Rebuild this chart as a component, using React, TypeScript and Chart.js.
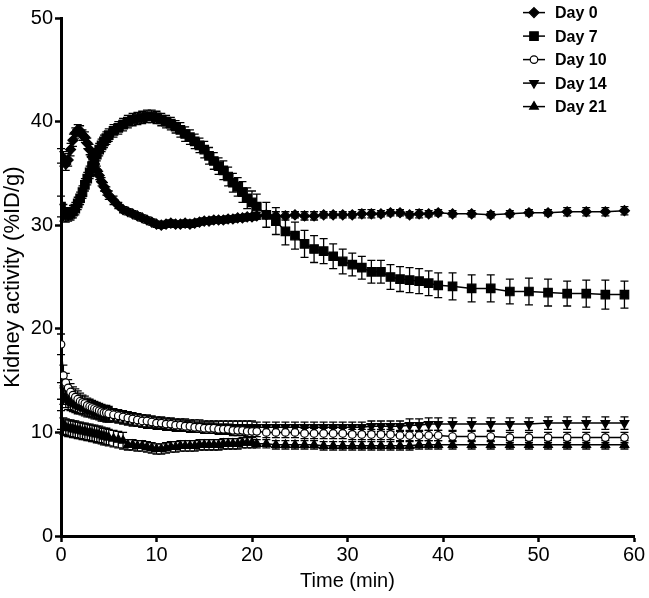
import React, { useEffect, useRef } from 'react';
import { Chart, registerables } from 'chart.js';

Chart.register(...registerables);

const FONT = '"Liberation Sans", Arial, sans-serif';

const times = [0, 0.25, 0.5, 0.75, 1, 1.25, 1.5, 1.75, 2, 2.25, 2.5, 2.75, 3, 3.25, 3.5, 3.75, 4, 4.25, 4.5, 4.75, 5,
  5.5, 6, 6.5, 7, 7.5, 8, 8.5, 9, 9.5, 10, 10.5, 11, 11.5, 12, 12.5, 13, 13.5, 14, 14.5, 15, 15.5, 16, 16.5, 17, 17.5, 18, 18.5, 19, 19.5, 20,
  20.5, 21.5, 22.5, 23.5, 24.5, 25.5, 26.5, 27.5, 28.5, 29.5, 30.5, 31.5, 32.5, 33.5, 34.5, 35.5, 36.5, 37.5, 38.5, 39.5,
  41, 43, 45, 47, 49, 51, 53, 55, 57, 59];

const day0 = [36.7, 36.4, 35.9, 36.3, 37.3, 38.2, 38.9, 39.2, 39.1, 38.7, 38.5, 37.9, 37.3, 36.6, 35.9, 35.3, 34.8, 34.2, 33.7, 33.3, 32.9,
  32.4, 31.9, 31.5, 31.3, 31.1, 30.9, 30.7, 30.5, 30.3, 30.1, 30.0, 30.1, 30.2, 30.1, 30.1, 30.2, 30.1, 30.2, 30.3, 30.4, 30.4, 30.5, 30.5, 30.5, 30.6, 30.6, 30.7, 30.7, 30.8, 30.8,
  30.9, 31.0, 30.9, 30.9, 31.0, 30.9, 30.9, 31.0, 31.0, 31.0, 31.0, 31.1, 31.1, 31.1, 31.2, 31.2, 31.0, 31.1, 31.1, 31.2,
  31.1, 31.1, 31.0, 31.1, 31.2, 31.2, 31.3, 31.3, 31.3, 31.4];
const day0Err = [0.7, 0.7, 0.6, 0.6, 0.6, 0.6, 0.5, 0.5, 0.5, 0.5, 0.5, 0.5, 0.5, 0.5, 0.5, 0.4, 0.4, 0.4, 0.4, 0.4, 0.4,
  0.4, 0.3, 0.3, 0.3, 0.3, 0.3, 0.3, 0.3, 0.3, 0.3, 0.3, 0.3, 0.3, 0.3, 0.3, 0.3, 0.3, 0.3, 0.3, 0.3, 0.3, 0.3, 0.3, 0.3, 0.3, 0.3, 0.3, 0.3, 0.3, 0.3,
  0.3, 0.3, 0.4, 0.4, 0.3, 0.4, 0.4, 0.3, 0.3, 0.3, 0.3, 0.4, 0.4, 0.3, 0.3, 0.3, 0.3, 0.4, 0.3, 0.3,
  0.3, 0.3, 0.3, 0.3, 0.3, 0.3, 0.4, 0.4, 0.4, 0.4];

const day7 = [31.8, 31.2, 31.0, 31.0, 31.1, 31.3, 31.6, 32.1, 32.6, 33.2, 33.9, 34.5, 35.1, 35.7, 36.2, 36.8, 37.3, 37.7, 38.1, 38.4, 38.7,
  39.1, 39.4, 39.7, 40.0, 40.2, 40.3, 40.4, 40.5, 40.5, 40.4, 40.2, 40.0, 39.8, 39.5, 39.2, 38.8, 38.5, 38.1, 37.7, 37.3, 36.7, 36.2, 35.7, 35.3, 34.7, 34.1, 33.7, 33.2, 32.6, 32.2,
  31.8, 31.0, 30.4, 29.4, 29.0, 28.2, 27.7, 27.5, 27.0, 26.5, 26.2, 25.9, 25.5, 25.5, 25.0, 24.8, 24.7, 24.6, 24.4, 24.2,
  24.1, 23.9, 23.9, 23.6, 23.6, 23.5, 23.4, 23.4, 23.3, 23.3];
const day7Err = [1.0, 0.8, 0.7, 0.6, 0.6, 0.6, 0.6, 0.6, 0.6, 0.6, 0.6, 0.6, 0.6, 0.6, 0.6, 0.6, 0.6, 0.6, 0.6, 0.6, 0.6,
  0.6, 0.6, 0.6, 0.6, 0.6, 0.6, 0.6, 0.6, 0.6, 0.6, 0.6, 0.6, 0.6, 0.6, 0.7, 0.7, 0.7, 0.7, 0.7, 0.8, 0.8, 0.8, 0.8, 0.9, 0.9, 0.9, 0.9, 1.0, 1.0, 1.1,
  1.2, 1.2, 1.3, 1.3, 1.3, 1.3, 1.3, 1.2, 1.2, 1.2, 1.1, 1.1, 1.1, 1.1, 1.2, 1.2, 1.2, 1.2, 1.2, 1.2,
  1.3, 1.3, 1.3, 1.2, 1.3, 1.3, 1.2, 1.3, 1.4, 1.3];

const day10 = [18.5, 15.5, 14.8, 14.3, 13.9, 13.6, 13.4, 13.2, 13.0, 12.9, 12.8, 12.6, 12.5, 12.4, 12.3, 12.2, 12.1, 12.0, 11.9, 11.9, 11.8,
  11.7, 11.6, 11.5, 11.4, 11.3, 11.2, 11.1, 11.1, 11.0, 10.9, 10.9, 10.8, 10.8, 10.7, 10.7, 10.6, 10.6, 10.5, 10.5, 10.4, 10.4, 10.4, 10.3, 10.3, 10.3, 10.2, 10.2, 10.2, 10.1, 10.1,
  10.1, 10.0, 10.0, 10.0, 10.0, 9.9, 9.9, 9.9, 9.9, 9.9, 9.8, 9.8, 9.8, 9.8, 9.8, 9.7, 9.7, 9.7, 9.7, 9.7,
  9.6, 9.6, 9.6, 9.5, 9.5, 9.5, 9.5, 9.5, 9.5, 9.5];
const day10Err = [1.0, 1.0, 0.9, 0.8, 0.8, 0.8, 0.8, 0.8, 0.8, 0.7, 0.7, 0.7, 0.7, 0.7, 0.7, 0.7, 0.7, 0.7, 0.7, 0.7, 0.7,
  0.6, 0.6, 0.6, 0.6, 0.6, 0.6, 0.6, 0.6, 0.5, 0.5, 0.5, 0.5, 0.5, 0.5, 0.5, 0.5, 0.5, 0.5, 0.5, 0.5, 0.5, 0.5, 0.5, 0.5, 0.5, 0.5, 0.5, 0.5, 0.5, 0.5,
  0.5, 0.5, 0.5, 0.5, 0.5, 0.5, 0.5, 0.5, 0.5, 0.5, 0.5, 0.5, 0.5, 0.5, 0.5, 0.5, 0.5, 0.5, 0.5, 0.5,
  0.5, 0.5, 0.5, 0.5, 0.5, 0.5, 0.5, 0.5, 0.5, 0.5];

const day14 = [14.0, 13.5, 13.2, 13.0, 12.9, 12.8, 12.7, 12.6, 12.5, 12.4, 12.3, 12.2, 12.2, 12.1, 12.0, 12.0, 11.9, 11.8, 11.8, 11.7, 11.7,
  11.6, 11.5, 11.4, 11.3, 11.2, 11.2, 11.1, 11.0, 11.0, 10.9, 10.9, 10.8, 10.8, 10.7, 10.7, 10.7, 10.6, 10.6, 10.6, 10.5, 10.5, 10.5, 10.5, 10.5, 10.5, 10.5, 10.5, 10.5, 10.5, 10.5,
  10.5, 10.5, 10.5, 10.5, 10.5, 10.5, 10.5, 10.5, 10.5, 10.5, 10.5, 10.5, 10.6, 10.6, 10.6, 10.6, 10.7, 10.7, 10.8, 10.8,
  10.8, 10.8, 10.8, 10.8, 10.8, 10.9, 10.9, 10.9, 10.9, 10.9];
const day14Err = [0.8, 0.8, 0.8, 0.8, 0.8, 0.8, 0.8, 0.8, 0.7, 0.7, 0.7, 0.7, 0.7, 0.7, 0.7, 0.7, 0.7, 0.7, 0.7, 0.7, 0.7,
  0.6, 0.6, 0.6, 0.6, 0.6, 0.6, 0.6, 0.6, 0.6, 0.6, 0.6, 0.6, 0.6, 0.6, 0.6, 0.6, 0.6, 0.6, 0.6, 0.6, 0.6, 0.6, 0.6, 0.6, 0.6, 0.6, 0.6, 0.6, 0.6, 0.6,
  0.5, 0.5, 0.5, 0.5, 0.5, 0.5, 0.5, 0.5, 0.5, 0.5, 0.5, 0.5, 0.5, 0.5, 0.5, 0.5, 0.6, 0.6, 0.6, 0.6,
  0.6, 0.6, 0.6, 0.6, 0.6, 0.6, 0.6, 0.6, 0.6, 0.6];

const day21 = [11.2, 10.6, 10.5, 10.4, 10.4, 10.3, 10.3, 10.2, 10.2, 10.1, 10.1, 10.0, 10.0, 9.9, 9.9, 9.8, 9.8, 9.7, 9.6, 9.6, 9.5,
  9.4, 9.3, 9.2, 8.8, 8.8, 8.7, 8.7, 8.6, 8.5, 8.4, 8.4, 8.5, 8.6, 8.6, 8.7, 8.7, 8.7, 8.7, 8.8, 8.8, 8.8, 8.8, 8.8, 8.9, 8.9, 8.9, 8.9, 9.0, 9.0, 9.0,
  8.9, 8.9, 8.8, 8.8, 8.8, 8.8, 8.8, 8.7, 8.7, 8.7, 8.7, 8.7, 8.7, 8.7, 8.7, 8.7, 8.7, 8.8, 8.8, 8.8,
  8.8, 8.8, 8.8, 8.8, 8.8, 8.8, 8.8, 8.8, 8.8, 8.8];
const day21Err = [0.9, 0.8, 0.8, 0.8, 0.8, 0.8, 0.8, 0.8, 0.8, 0.8, 0.8, 0.8, 0.8, 0.8, 0.8, 0.8, 0.8, 0.8, 0.8, 0.8, 0.8,
  0.8, 0.8, 0.8, 0.5, 0.5, 0.5, 0.5, 0.5, 0.5, 0.5, 0.5, 0.5, 0.5, 0.5, 0.5, 0.5, 0.5, 0.5, 0.5, 0.5, 0.5, 0.5, 0.5, 0.5, 0.5, 0.5, 0.5, 0.5, 0.5, 0.5,
  0.4, 0.4, 0.4, 0.4, 0.4, 0.4, 0.4, 0.4, 0.4, 0.4, 0.4, 0.4, 0.4, 0.4, 0.4, 0.4, 0.4, 0.4, 0.4, 0.4,
  0.4, 0.4, 0.4, 0.4, 0.4, 0.4, 0.4, 0.4, 0.4, 0.4];

const seriesLabels = ['Day 0', 'Day 7', 'Day 10', 'Day 14', 'Day 21'];
const seriesValues = [day0, day7, day10, day14, day21];
const seriesErrors = [day0Err, day7Err, day10Err, day14Err, day21Err];

const markers = [
  { style: 'rectRot', radius: 5, rotation: 0, fill: '#000' },
  { style: 'rect', radius: 6, rotation: 0, fill: '#000' },
  { style: 'circle', radius: 3.8, rotation: 0, fill: '#fff' },
  { style: 'triangle', radius: 5, rotation: 180, fill: '#000' },
  { style: 'triangle', radius: 5, rotation: 0, fill: '#000' },
];

function drawMarker(ctx: CanvasRenderingContext2D, m: any, x: number, y: number) {
  ctx.save();
  ctx.beginPath();
  const r = m.radius;
  if (m.style === 'circle') {
    ctx.arc(x, y, r, 0, Math.PI * 2);
  } else if (m.style === 'rect') {
    const s = Math.SQRT1_2 * r;
    ctx.rect(x - s, y - s, 2 * s, 2 * s);
  } else if (m.style === 'rectRot') {
    ctx.moveTo(x, y - r);
    ctx.lineTo(x + r, y);
    ctx.lineTo(x, y + r);
    ctx.lineTo(x - r, y);
    ctx.closePath();
  } else if (m.style === 'triangle') {
    let rad = (m.rotation * Math.PI) / 180;
    ctx.moveTo(x + Math.sin(rad) * r, y - Math.cos(rad) * r);
    rad += (2 * Math.PI) / 3;
    ctx.lineTo(x + Math.sin(rad) * r, y - Math.cos(rad) * r);
    rad += (2 * Math.PI) / 3;
    ctx.lineTo(x + Math.sin(rad) * r, y - Math.cos(rad) * r);
    ctx.closePath();
  }
  ctx.fillStyle = m.fill;
  ctx.fill();
  ctx.lineWidth = 1.2;
  ctx.strokeStyle = '#000';
  ctx.stroke();
  ctx.restore();
}

const errorBarPlugin = {
  id: 'errorBars',
  beforeDatasetsDraw(chart: any) {
    const ctx = chart.ctx;
    const yScale = chart.scales.y;
    const xScale = chart.scales.x;
    ctx.save();
    ctx.strokeStyle = '#000';
    ctx.lineWidth = 1.3;
    seriesValues.forEach((vals, i) => {
      const errs = seriesErrors[i];
      vals.forEach((v, j) => {
        const px = xScale.getPixelForValue(times[j]);
        const top = yScale.getPixelForValue(v + errs[j]);
        const bot = yScale.getPixelForValue(v - errs[j]);
        ctx.beginPath();
        ctx.moveTo(px, top);
        ctx.lineTo(px, bot);
        ctx.moveTo(px - 4, top);
        ctx.lineTo(px + 4, top);
        ctx.moveTo(px - 4, bot);
        ctx.lineTo(px + 4, bot);
        ctx.stroke();
      });
    });
    ctx.restore();
  },
};

const legendPlugin = {
  id: 'customLegend',
  afterDraw(chart: any) {
    const ctx = chart.ctx;
    ctx.save();
    seriesLabels.forEach((label, i) => {
      const y = 12.6 + i * 23.5;
      ctx.strokeStyle = '#000';
      ctx.lineWidth = 1.5;
      ctx.beginPath();
      ctx.moveTo(523, y);
      ctx.lineTo(545, y);
      ctx.stroke();
      drawMarker(ctx, markers[i], 534, y);
      ctx.fillStyle = '#000';
      ctx.font = `bold 16px ${FONT}`;
      ctx.textBaseline = 'middle';
      ctx.textAlign = 'left';
      ctx.fillText(label, 555, y + 1);
    });
    ctx.restore();
  },
};

export default function App() {
  const canvasRef = useRef<HTMLCanvasElement | null>(null);

  useEffect(() => {
    if (!canvasRef.current) return;
    const datasets = seriesLabels.map((label, i) => ({
      label,
      data: times.map((t, j) => ({ x: t, y: seriesValues[i][j] })),
      borderColor: '#000',
      borderWidth: 1.5,
      pointStyle: markers[i].style,
      pointRadius: markers[i].radius,
      pointRotation: markers[i].rotation,
      pointBackgroundColor: markers[i].fill,
      pointBorderColor: '#000',
      pointBorderWidth: 1.2,
      tension: 0,
      fill: false,
    }));

    const chart = new Chart(canvasRef.current, {
      type: 'line',
      data: { datasets },
      options: {
        animation: false,
        responsive: false,
        maintainAspectRatio: false,
        layout: { padding: { top: 18, right: 15, left: 0, bottom: 0 } },
        plugins: { legend: { display: false }, tooltip: { enabled: false } },
        scales: {
          x: {
            type: 'linear',
            min: 0,
            max: 60,
            ticks: { stepSize: 10, color: '#000', font: { family: FONT, size: 20 }, padding: 1, maxRotation: 0 },
            grid: { drawOnChartArea: false, drawTicks: true, tickLength: 6, tickWidth: 2.5, tickColor: '#000' },
            border: { color: '#000', width: 3 },
            title: { display: true, text: 'Time (min)', color: '#000', font: { family: FONT, size: 20 }, padding: { top: 0, bottom: 5 } },
            afterFit: (s: any) => { s.height = 62; },
          },
          y: {
            min: 0,
            max: 50,
            ticks: { stepSize: 10, color: '#000', font: { family: FONT, size: 20 }, padding: 2 },
            grid: { drawOnChartArea: false, drawTicks: true, tickLength: 6, tickWidth: 2.5, tickColor: '#000' },
            border: { color: '#000', width: 3 },
            title: { display: true, text: 'Kidney activity (%ID/g)', color: '#000', font: { family: FONT, size: 22 }, padding: { top: 0, bottom: 0 } },
            afterFit: (s: any) => { s.width = 61; },
          },
        },
      } as any,
      plugins: [errorBarPlugin, legendPlugin],
    });
    return () => chart.destroy();
  }, []);

  return (
    <div style={{ position: 'absolute', left: 0, top: 0, width: 649, height: 598, background: '#fff' }}>
      <canvas ref={canvasRef} width={649} height={598} style={{ width: 649, height: 598 }} />
    </div>
  );
}
